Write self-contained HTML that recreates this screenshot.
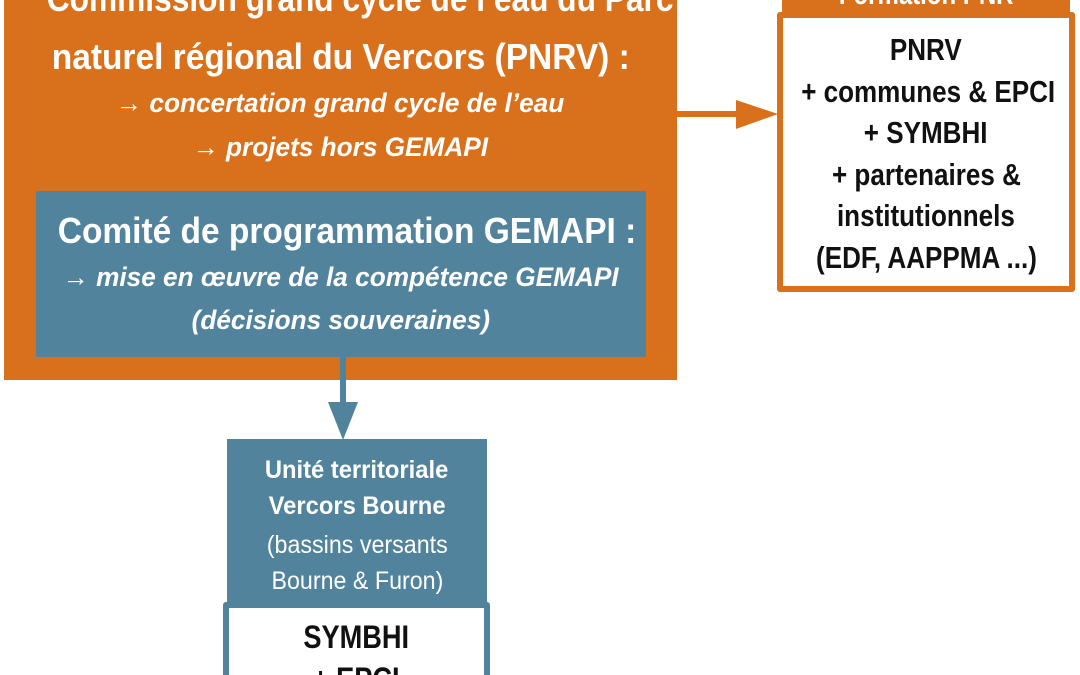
<!DOCTYPE html>
<html><head><meta charset="utf-8"><style>
*{margin:0;padding:0;box-sizing:border-box}
html,body{width:1080px;height:675px;overflow:hidden}
body{background:#fff;position:relative;font-family:"Liberation Sans",sans-serif}
.a{position:absolute}
.t{position:absolute;left:0;right:0;text-align:center;white-space:nowrap}
.t span{display:inline-block;transform-origin:center}
.w{color:#fff}
.b{font-weight:bold}
.i{font-style:italic;font-weight:bold}
</style></head><body>
<div class="a" style="left:4px;top:0;width:673px;height:380px;background:#D9711C"></div>
<div class="t w b" style="left:4px;width:673px;top:-24px;font-size:36px;line-height:46px"><span style="transform:scaleX(.88)">Commission grand cycle de l’eau du Parc</span></div>
<div class="t w b" style="left:4px;width:673px;top:34px;font-size:36px;line-height:46px"><span style="transform:scaleX(.93)">naturel régional du Vercors (PNRV) :</span></div>
<div class="t w i" style="left:4px;width:673px;top:86px;font-size:27px;line-height:34px"><span style="transform:scaleX(.97)">→ concertation grand cycle de l’eau</span></div>
<div class="t w i" style="left:4px;width:673px;top:130px;font-size:27px;line-height:34px"><span style="transform:scaleX(.97)">→ projets hors GEMAPI</span></div>
<div class="a" style="left:36px;top:191px;width:610px;height:166px;background:#51849C"></div>
<div class="t w b" style="left:36px;width:610px;top:208px;font-size:36px;line-height:46px"><span style="transform:scaleX(.93)">Comité de programmation GEMAPI :</span></div>
<div class="t w i" style="left:36px;width:610px;top:260px;font-size:27px;line-height:34px"><span style="transform:scaleX(.97)">→ mise en œuvre de la compétence GEMAPI</span></div>
<div class="t w i" style="left:36px;width:610px;top:303px;font-size:27px;line-height:34px"><span style="transform:scaleX(.97)">(décisions souveraines)</span></div>
<div class="a" style="left:677px;top:111px;width:62px;height:6px;background:#D9711C"></div>
<svg class="a" style="left:736px;top:100px" width="44" height="30"><polygon points="0,0 42,14 0,29" fill="#D9711C"/></svg>
<div class="a" style="left:782px;top:0;width:288px;height:16px;background:#D9711C"></div>
<div class="t w b" style="left:782px;width:288px;top:-22px;font-size:30px;line-height:34px"><span style="transform:scaleX(.8)">Formation PNR</span></div>
<div class="a" style="left:777px;top:12px;width:298px;height:280px;border:6px solid #D9711C;border-radius:3px;background:#fff"></div>
<div class="t b" style="left:777px;width:298px;top:29px;font-size:31px;line-height:41.5px;color:#111">
<span style="transform:scaleX(.84)">PNRV</span><br><span style="transform:scaleX(.84)">+ communes &amp; EPCI</span><br><span style="transform:scaleX(.84)">+ SYMBHI</span><br><span style="transform:scaleX(.84)">+ partenaires &amp;</span><br><span style="transform:scaleX(.84)">institutionnels</span><br><span style="transform:scaleX(.84)">(EDF, AAPPMA ...)</span></div>
<div class="a" style="left:340px;top:357px;width:6px;height:48px;background:#51849C"></div>
<svg class="a" style="left:328px;top:402px" width="30" height="40"><polygon points="0,0 30,0 15,38" fill="#51849C"/></svg>
<div class="a" style="left:227px;top:439px;width:260px;height:168px;background:#51849C"></div>
<div class="t w b" style="left:227px;width:260px;top:452px;font-size:25px;line-height:36px"><span style="transform:scaleX(.95)">Unité territoriale</span><br><span style="transform:scaleX(.95)">Vercors Bourne</span></div>
<div class="t w" style="left:227px;width:260px;top:527px;font-size:25px;line-height:36px"><span style="transform:scaleX(.93)">(bassins versants</span><br><span style="transform:scaleX(.93)">Bourne &amp; Furon)</span></div>
<div class="a" style="left:223px;top:602px;width:267px;height:90px;border:6px solid #51849C;border-radius:3px;background:#fff"></div>
<div class="t b" style="left:223px;width:267px;top:616px;font-size:32px;line-height:42px;color:#111"><span style="transform:scaleX(.85)">SYMBHI</span><br><span style="transform:scaleX(.85)">+ EPCI</span></div>
</body></html>
